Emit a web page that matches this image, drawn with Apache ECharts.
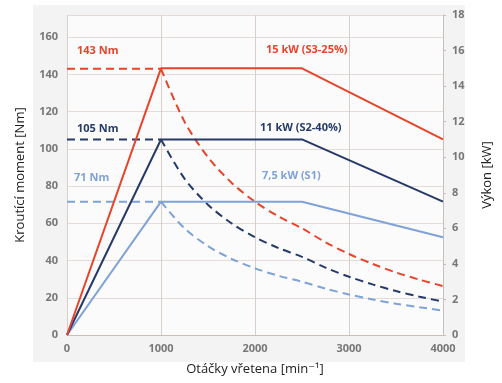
<!DOCTYPE html>
<html>
<head>
<meta charset="utf-8">
<script src="https://cdn.jsdelivr.net/npm/echarts@6/dist/echarts.min.js"></script>
<style>
  html, body { margin: 0; padding: 0; background: #fff; }
  #chart { width: 502px; height: 383px; }
</style>
</head>
<body>
<div id="chart"></div>
<script>
// otacky (min-1)
var rpm = [0, 1000, 1250, 1500, 1750, 2000, 2250, 2500, 2750, 3000, 3250, 3500, 3750, 4000];
var rpmPower = [0, 1000, 2500, 4000];

// vykon [kW] - plne cary (prava osa)
var powerS3 = [0, 15, 15, 11];
var powerS2 = [0, 11, 11, 7.5];
var powerS1 = [0, 7.5, 7.5, 5.5];

// krouticí moment [Nm] - carkovane (leva osa)
var torqueS3 = [143, 143, 114.6, 95.5, 81.8, 71.6, 63.7, 57.3, 49.8, 43.5, 38.2, 33.6, 29.7, 26.3];
var torqueS2 = [105, 105, 84.0, 70.0, 60.0, 52.5, 46.7, 42.0, 36.2, 31.3, 27.2, 23.6, 20.6, 17.9];
var torqueS1 = [71.6, 71.6, 57.3, 47.7, 40.9, 35.8, 31.8, 28.6, 24.9, 21.8, 19.1, 16.8, 14.9, 13.1];

var red = '#e8432b', navy = '#263a6a', light = '#7fa2d8';

function pairs(xs, ys) {
    return xs.map(function (x, i) { return [x, ys[i]]; });
}

function powerLine(name, data, color) {
    return {
        name: name, type: 'line', yAxisIndex: 1, symbol: 'none',
        data: pairs(rpmPower, data),
        lineStyle: { color: color, width: 2 }
    };
}
// rovny usek do 1000 a krivka za 1000 zvlast, at se roh nezaobli
function torqueLines(name, data, color) {
    var pts = pairs(rpm, data);
    var style = { color: color, width: 2, type: [8, 5] };
    return [
        { name: name, type: 'line', yAxisIndex: 0, symbol: 'none', data: pts.slice(0, 2), lineStyle: style },
        { name: name, type: 'line', yAxisIndex: 0, symbol: 'none', data: pts.slice(1),
          smooth: 0.3, lineStyle: style }
    ];
}

var chart = echarts.init(document.getElementById('chart'));
var labelFont = 'Open Sans, DejaVu Sans, sans-serif';

var option = {
    animation: false,
    backgroundColor: '#fff',
    graphic: [
        { type: 'rect', z: -10, shape: { x: 33, y: 5, width: 432, height: 357 }, style: { fill: '#f3f3f3' } },
        { type: 'rect', z: -9, shape: { x: 67, y: 15, width: 376, height: 320 }, style: { fill: '#fbfbfb' } },
        { type: 'text', left: 77, top: 45, style: { text: '143 Nm', fill: red, font: 'bold 11px ' + labelFont } },
        { type: 'text', left: 77, top: 123, style: { text: '105 Nm', fill: navy, font: 'bold 11px ' + labelFont } },
        { type: 'text', left: 74, top: 172, style: { text: '71 Nm', fill: light, font: 'bold 11px ' + labelFont } },
        { type: 'text', left: 266, top: 44, style: { text: '15 kW (S3-25%)', fill: red, font: 'bold 11px ' + labelFont } },
        { type: 'text', left: 260, top: 122, style: { text: '11 kW (S2-40%)', fill: navy, font: 'bold 11px ' + labelFont } },
        { type: 'text', left: 262, top: 170, style: { text: '7,5 kW (S1)', fill: light, font: 'bold 11px ' + labelFont } }
    ],
    grid: { left: 67, right: 59, top: 15, bottom: 48 },
    xAxis: {
        type: 'value', min: 0, max: 4000, interval: 1000,
        name: 'Otáčky vřetena [min⁻¹]', nameLocation: 'middle', nameGap: 28,
        nameTextStyle: { color: '#222', fontSize: 13, fontFamily: labelFont },
        axisLine: { lineStyle: { color: '#c9bfb8' } },
        axisTick: { show: false },
        axisLabel: { color: '#777', fontSize: 11, fontWeight: 'bold', fontFamily: labelFont, margin: 8,
            formatter: function (v) { return String(v); } },
        splitLine: { show: true, lineStyle: { color: '#d9cfc8' } }
    },
    yAxis: [
        {
            type: 'value', min: 0, max: 171.887, interval: 20,
            name: 'Kroutící moment [Nm]', nameLocation: 'middle', nameGap: 40, nameRotate: 90,
            nameTextStyle: { color: '#222', fontSize: 13, fontFamily: labelFont },
            axisLine: { show: false },
            axisTick: { show: false },
            axisLabel: { color: '#777', fontSize: 11, fontWeight: 'bold', fontFamily: labelFont, margin: 9, showMaxLabel: false },
            splitLine: { lineStyle: { color: '#e3dcd8' } }
        },
        {
            type: 'value', min: 0, max: 18, interval: 2, position: 'right',
            name: 'Výkon [kW]', nameLocation: 'middle', nameGap: 38, nameRotate: 90,
            nameTextStyle: { color: '#222', fontSize: 13, fontFamily: labelFont },
            axisLine: { show: true, lineStyle: { color: '#c9bfb8' } },
            axisTick: { show: true, length: 3, lineStyle: { color: '#c9bfb8' } },
            axisLabel: { color: '#777', fontSize: 11, fontWeight: 'bold', fontFamily: labelFont, margin: 9 },
            splitLine: { show: false }
        }
    ],
    series: [].concat(
        torqueLines('M S1', torqueS1, light),
        torqueLines('M S2', torqueS2, navy),
        torqueLines('M S3', torqueS3, red),
        [powerLine('P S1', powerS1, light),
         powerLine('P S2', powerS2, navy),
         powerLine('P S3', powerS3, red)]
    )
};

chart.setOption(option);
</script>
</body>
</html>
